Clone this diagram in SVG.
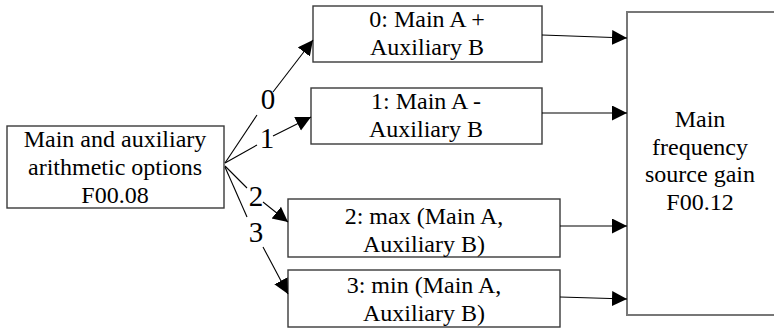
<svg xmlns="http://www.w3.org/2000/svg" width="774" height="328" viewBox="0 0 774 328">
<style>
.box{fill:#fff;stroke:#3a3a3a;stroke-width:1.4}
.big{fill:#fff;stroke:#777;stroke-width:2}
.t{font-family:Liberation Serif,serif;font-size:24px;fill:#000;text-anchor:middle}
.lab{font-family:Liberation Serif,serif;font-size:29px;fill:#000;text-anchor:middle}
.c{stroke:#000;stroke-width:1.1;fill:none}
</style>
<defs>
<marker id="ah" markerUnits="userSpaceOnUse" markerWidth="16" markerHeight="16" refX="15" refY="7.5" orient="auto">
<path d="M0,0 L15,7.5 L0,15 Z" fill="#000"/>
</marker>
</defs>
<rect width="774" height="328" fill="#fff"/>
<g id="right">
<rect class="big" x="627" y="12" width="152" height="303"/>
<text class="t" x="700" y="127">Main</text>
<text class="t" x="700" y="155">frequency</text>
<text class="t" x="700" y="182">source gain</text>
<text class="t" x="700" y="210">F00.12</text>
</g>
<g id="left">
<rect class="box" x="7" y="126" width="217" height="82"/>
<text class="t" x="115" y="147">Main and auxiliary</text>
<text class="t" x="115" y="175">arithmetic options</text>
<text class="t" x="115" y="203">F00.08</text>
</g>
<g id="opt0">
<rect class="box" x="313" y="6" width="229" height="56"/>
<text class="t" x="427" y="27">0: Main A +</text>
<text class="t" x="427" y="55">Auxiliary B</text>
</g>
<g id="opt1">
<rect class="box" x="311" y="88" width="231" height="56"/>
<text class="t" x="426" y="109">1: Main A -</text>
<text class="t" x="426" y="137">Auxiliary B</text>
</g>
<g id="opt2">
<rect class="box" x="288" y="199" width="272" height="58"/>
<text class="t" x="424" y="224">2: max (Main A,</text>
<text class="t" x="424" y="252">Auxiliary B)</text>
</g>
<g id="opt3">
<rect class="box" x="288" y="270" width="272" height="57"/>
<text class="t" x="424" y="293">3: min (Main A,</text>
<text class="t" x="424" y="321">Auxiliary B)</text>
</g>
<g id="connectors">
<line class="c" x1="225" y1="163" x2="257" y2="115"/>
<line class="c" x1="273" y1="92" x2="313" y2="40" marker-end="url(#ah)"/>
<line class="c" x1="225" y1="163" x2="257" y2="145"/>
<line class="c" x1="273" y1="136" x2="311" y2="117" marker-end="url(#ah)"/>
<line class="c" x1="225" y1="166" x2="247" y2="188"/>
<line class="c" x1="263" y1="202" x2="288" y2="222" marker-end="url(#ah)"/>
<line class="c" x1="225" y1="167" x2="247" y2="217"/>
<line class="c" x1="263" y1="247" x2="288" y2="294" marker-end="url(#ah)"/>
<line class="c" x1="542" y1="35" x2="627" y2="38" marker-end="url(#ah)"/>
<line class="c" x1="542" y1="113" x2="627" y2="113" marker-end="url(#ah)"/>
<line class="c" x1="560" y1="226" x2="627" y2="226" marker-end="url(#ah)"/>
<line class="c" x1="560" y1="297" x2="627" y2="299" marker-end="url(#ah)"/>
<text class="lab" x="268" y="109">0</text>
<text class="lab" x="267" y="148">1</text>
<text class="lab" x="256" y="206">2</text>
<text class="lab" x="256" y="242">3</text>
</g>
</svg>
